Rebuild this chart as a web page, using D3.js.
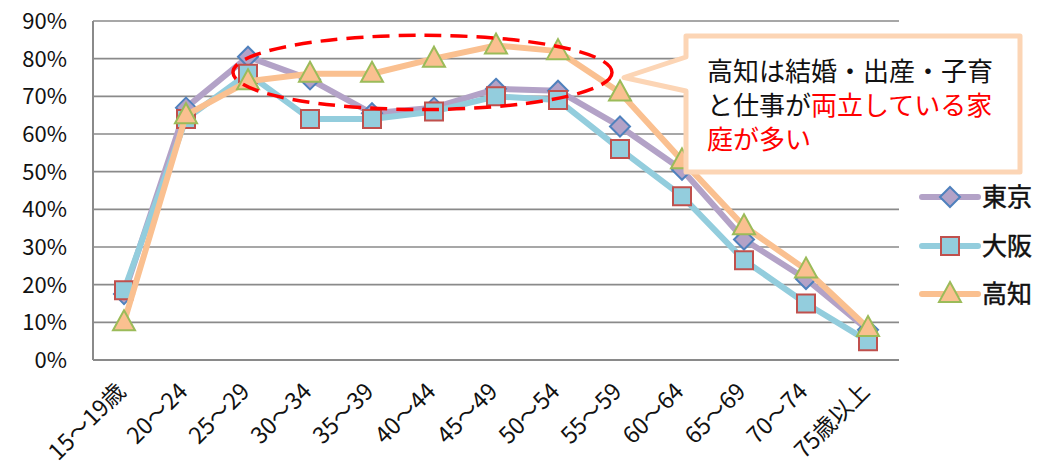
<!DOCTYPE html>
<html>
<head>
<meta charset="utf-8">
<script src="https://cdn.jsdelivr.net/npm/d3@7"></script>
<style>
  body { margin: 0; background: #fff; }
  text { font-family: "Noto Sans CJK JP", "Noto Sans", sans-serif; }
</style>
</head>
<body>
<script>
// age groups and participation rates (share of population working)
let ages = ["15～19歳", "20～24", "25～29", "30～34", "35～39", "40～44", "45～49",
            "50～54", "55～59", "60～64", "65～69", "70～74", "75歳以上"];
let tokyo = [0.175, 0.67, 0.805, 0.745, 0.655, 0.67, 0.72, 0.715, 0.62, 0.505, 0.32, 0.215, 0.08];
let osaka = [0.185, 0.64, 0.76, 0.64, 0.64, 0.66, 0.70, 0.69, 0.56, 0.435, 0.265, 0.15, 0.05];
let kochi = [0.10, 0.65, 0.74, 0.76, 0.76, 0.80, 0.835, 0.82, 0.71, 0.53, 0.355, 0.24, 0.085];
let yTicks = [0, 0.1, 0.2, 0.3, 0.4, 0.5, 0.6, 0.7, 0.8, 0.9];
let seriesNames = ["東京", "大阪", "高知"];

let W = 1047, H = 471;
let margin = {top: 21, right: 148, bottom: 111, left: 93};

let svg = d3.select("body").append("svg")
    .attr("width", W)
    .attr("height", H);

let x = d3.scaleBand()
    .domain(ages)
    .range([margin.left, W - margin.right]);
let y = d3.scaleLinear()
    .domain([0, 0.9])
    .range([H - margin.bottom, margin.top]);
let cx = d => x(d) + x.bandwidth() / 2;

// gridlines
svg.append("g")
    .selectAll("line")
    .data(yTicks.slice(1))
    .enter().append("line")
        .attr("x1", margin.left).attr("x2", W - margin.right)
        .attr("y1", d => y(d)).attr("y2", d => y(d))
        .style("stroke", "#8a8a8a")
        .style("stroke-width", 1.6);

// axis lines
svg.append("line")
    .attr("x1", margin.left).attr("x2", margin.left)
    .attr("y1", y(0.9)).attr("y2", y(0))
    .style("stroke", "#8a8a8a").style("stroke-width", 2);
svg.append("line")
    .attr("x1", margin.left).attr("x2", W - margin.right)
    .attr("y1", y(0)).attr("y2", y(0))
    .style("stroke", "#8a8a8a").style("stroke-width", 2);

// y labels
svg.append("g")
    .selectAll("text")
    .data(yTicks)
    .enter().append("text")
        .attr("x", 67)
        .attr("y", d => y(d) + 8)
        .attr("text-anchor", "end")
        .style("font-size", "22px")
        .style("fill", "#111")
        .text(d => Math.round(d * 100) + "%");

// x labels, rotated
svg.append("g")
    .selectAll("text")
    .data(ages)
    .enter().append("text")
        .attr("transform", d => "translate(" + (cx(d) + 3) + "," + (y(0) + 33) + ") rotate(-45)")
        .attr("text-anchor", "end")
        .style("font-size", "23px")
        .style("fill", "#111")
        .text(d => d);

let series = [
    {name: "東京", values: tokyo, line: "#b3a2c7", fill: "#b3a2c7", stroke: "#4f81bd", shape: "diamond"},
    {name: "大阪", values: osaka, line: "#93cddd", fill: "#93cddd", stroke: "#c0504d", shape: "square"},
    {name: "高知", values: kochi, line: "#fac090", fill: "#fac090", stroke: "#9bbb59", shape: "triangle"}
];

function markerPath(shape) {
    if (shape == "diamond") return "M0,-10L10,0L0,10L-10,0Z";
    if (shape == "square") return "M-9,-9H9V9H-9Z";
    return "M0,-12L11,8H-11Z";
}

let line = d3.line()
    .x((d, i) => cx(ages[i]))
    .y(d => y(d));

series.forEach(function(s) {
    svg.append("path")
        .datum(s.values)
        .attr("d", line)
        .style("fill", "none")
        .style("stroke", s.line)
        .style("stroke-width", 6)
        .style("stroke-linejoin", "round");
    svg.append("g")
        .selectAll("path")
        .data(s.values)
        .enter().append("path")
            .attr("d", markerPath(s.shape))
            .attr("transform", (d, i) => "translate(" + cx(ages[i]) + "," + y(d) + ")")
            .style("fill", s.fill)
            .style("stroke", s.stroke)
            .style("stroke-width", 2);
});

// dashed red ellipse round the 25-54 plateau
let eLeft = cx("25～29") - 15, eRight = cx("55～59") - 8;
let eTop = y(0.862), eBottom = y(0.665);
svg.append("ellipse")
    .attr("cx", (eLeft + eRight) / 2)
    .attr("cy", (eTop + eBottom) / 2)
    .attr("rx", (eRight - eLeft) / 2)
    .attr("ry", (eBottom - eTop) / 2)
    .style("fill", "none")
    .style("stroke", "#ff0000")
    .style("stroke-width", 3.5)
    .style("stroke-dasharray", "17,9");

// callout box
let bx0 = 686, by0 = 36, bx1 = 1020, by1 = 172;
let tipX = eRight + 12, tipY = y(0.75);
svg.append("path")
    .attr("d", "M" + bx0 + "," + by0 + "H" + bx1 + "V" + by1 + "H" + bx0 +
               "V91L" + tipX + "," + tipY + "L" + bx0 + ",57Z")
    .style("fill", "#fff")
    .style("stroke", "#fcd5b5")
    .style("stroke-width", 5)
    .style("stroke-linejoin", "round");

let note = svg.append("g").style("font-size", "26px");
note.append("text").attr("x", 707).attr("y", 81)
    .style("fill", "#111").text("高知は結婚・出産・子育");
let l2 = note.append("text").attr("x", 707).attr("y", 115);
l2.append("tspan").style("fill", "#111").text("と仕事が");
l2.append("tspan").style("fill", "#ff0000").text("両立している家");
note.append("text").attr("x", 707).attr("y", 149)
    .style("fill", "#ff0000").text("庭が多い");

// legend
let legend = svg.append("g")
    .selectAll("g")
    .data(series)
    .enter().append("g")
        .attr("transform", (d, i) => "translate(922," + [197, 246, 294][i] + ")");
legend.append("line")
    .attr("x1", 0).attr("x2", 56)
    .style("stroke", d => d.line)
    .style("stroke-width", 6)
    .style("stroke-linecap", "round");
legend.append("path")
    .attr("d", d => markerPath(d.shape))
    .attr("transform", "translate(28,0)")
    .style("fill", d => d.fill)
    .style("stroke", d => d.stroke)
    .style("stroke-width", 2);
legend.append("text")
    .attr("x", 60)
    .attr("y", 9)
    .style("font-size", "25px")
    .style("fill", "#111")
    .style("stroke", "#111")
    .style("stroke-width", 0.5)
    .text(d => d.name);
</script>
</body>
</html>
